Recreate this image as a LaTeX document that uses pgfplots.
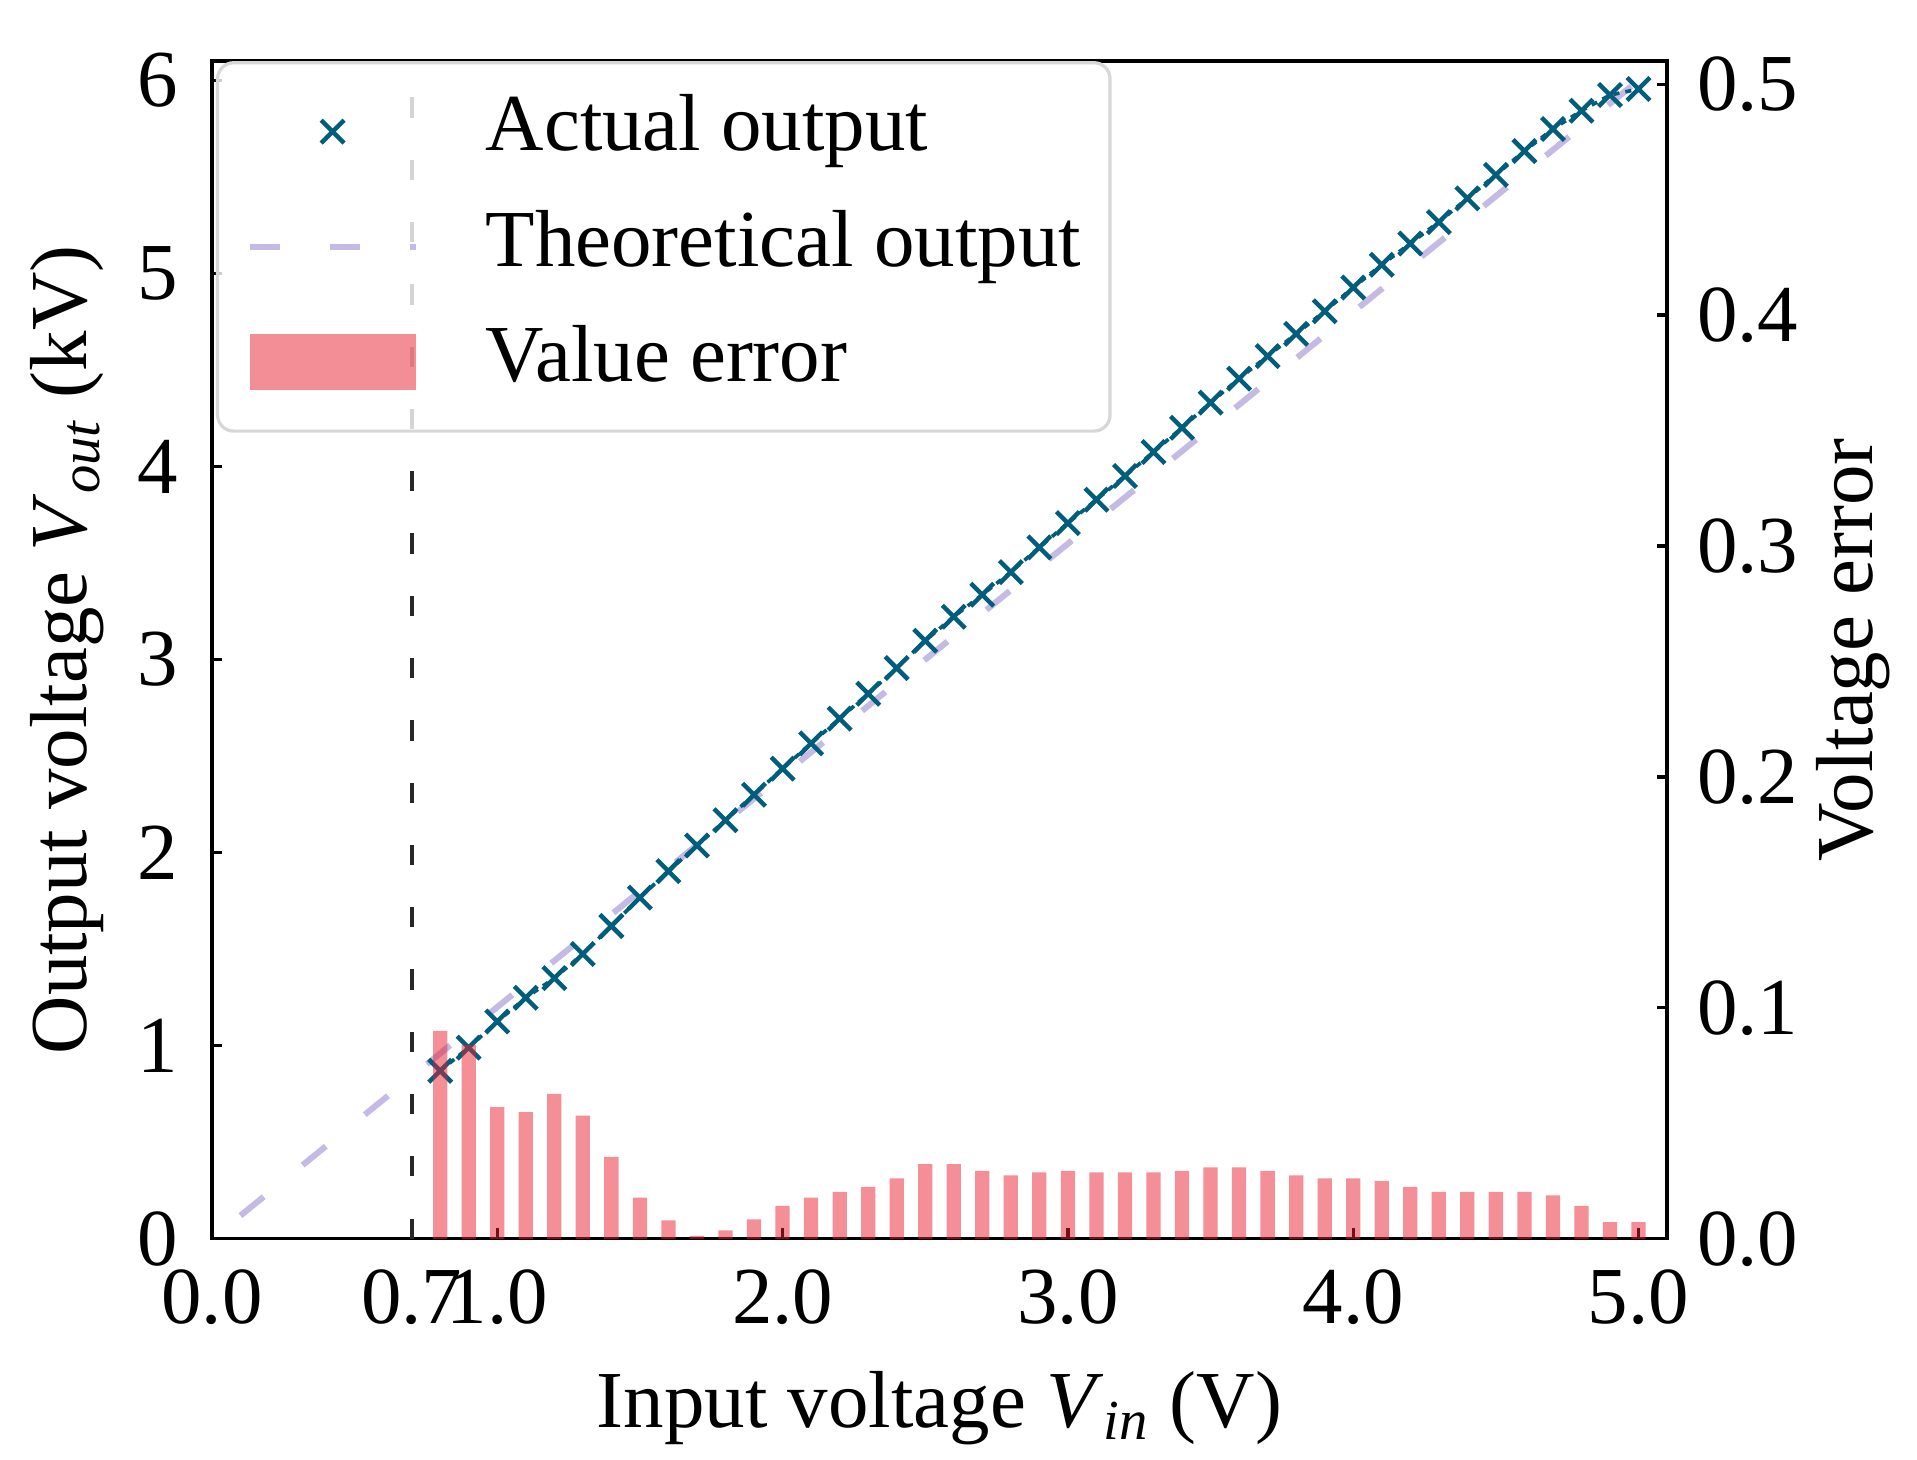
\documentclass[border=0pt]{standalone}
\usepackage{fontspec}
\setmainfont{Liberation Serif}
\usepackage{pgfplots}
\usepackage{pgfplotstable}
\pgfplotsset{compat=1.18}

\definecolor{teal0}{RGB}{0,94,124}
\definecolor{lav}{RGB}{196,186,228}
\definecolor{barc}{RGB}{233,31,49}
\definecolor{vline}{RGB}{40,40,40}
\definecolor{legframe}{RGB}{215,215,215}

\pgfplotstableread{
x v e
0.8 0.870 0.0900
0.9 0.990 0.0840
1.0 1.125 0.0570
1.1 1.248 0.0548
1.2 1.350 0.0627
1.3 1.475 0.0533
1.4 1.620 0.0355
1.5 1.767 0.0178
1.6 1.904 0.0080
1.7 2.037 0.0012
1.8 2.168 0.0036
1.9 2.300 0.0084
2.0 2.435 0.0142
2.1 2.566 0.0178
2.2 2.694 0.0203
2.3 2.823 0.0225
2.4 2.956 0.0262
2.5 3.098 0.0323
2.6 3.222 0.0323
2.7 3.336 0.0294
2.8 3.453 0.0275
2.9 3.581 0.0287
3.0 3.707 0.0294
3.1 3.828 0.0287
3.2 3.951 0.0287
3.3 4.075 0.0287
3.4 4.201 0.0294
3.5 4.331 0.0309
3.6 4.455 0.0309
3.7 4.572 0.0294
3.8 4.687 0.0275
3.9 4.804 0.0261
4.0 4.927 0.0261
4.1 5.045 0.0251
4.2 5.155 0.0225
4.3 5.266 0.0203
4.4 5.389 0.0203
4.5 5.511 0.0203
4.6 5.634 0.0203
4.7 5.748 0.0188
4.8 5.843 0.0142
4.9 5.924 0.0072
5.0 5.955 0.0072
}\datatab

\pgfplotsset{
  common/.style={
    scale only axis, width=359.8pt, height=291.2pt,
    xmin=0, xmax=5.1,
    tick align=inside, major tick length=2.6pt,
    tick style={black, line width=0.8pt},
    axis line style={black, line width=0.8pt},
    tick label style={font=\fontsize{20}{24}\selectfont},
    label style={font=\fontsize{20}{24}\selectfont},
  }
}

\begin{document}
\begin{tikzpicture}[font=\fontsize{20}{24}\selectfont]
\begin{axis}[common, name=ax,
  ymin=0, ymax=6.1,
  xtick={0,0.7,1,2,3,4,5}, xticklabels={0.0,0.7,1.0,2.0,3.0,4.0,5.0},
  ytick={0,1,2,3,4,5,6}, yticklabels={0,1,2,3,4,5,6},
  xtick pos=left, ytick pos=left,
  xticklabel style={yshift=-4pt},
  yticklabel style={xshift=-4.9pt},
  xlabel={Input voltage \textit{V}\textsubscript{\textit{in}} (V)},
  ylabel={Output voltage \textit{V}\textsubscript{\textit{out}} (kV)},
  xlabel style={at={([yshift=-41.8pt]axis description cs:0.5,0)}, anchor=center},
  ylabel style={at={([xshift=-35.8pt]axis description cs:0,0.5)}, anchor=center},
]
\addplot[vline, line width=1pt, dash pattern=on 5pt off 10.4pt, forget plot]
  coordinates {(0.7,0) (0.7,6.1)};
\addplot[lav, line width=1.5pt, dash pattern=on 7.4pt off 12.4pt, forget plot]
  coordinates {(0.1,0.12) (5.0,6.0)};
\addplot[teal0, line width=0.9pt, dash pattern=on 1.5pt off 1.5pt,
  mark=x, mark size=4pt, mark options={solid, line width=1.1pt}, forget plot]
  table[x=x, y=v] {\datatab};
\end{axis}

\begin{axis}[common,
  ymin=0, ymax=0.51,
  axis x line=none, axis y line*=right,
  ytick={0,0.1,0.2,0.3,0.4,0.5}, yticklabels={0.0,0.1,0.2,0.3,0.4,0.5},
  yticklabel style={xshift=3.9pt},
  ylabel={Voltage error},
  ylabel style={at={([xshift=46pt]axis description cs:1,0.5)}, anchor=center},
  legend cell align=left,
  legend style={at={([xshift=1pt]axis description cs:0,1)}, anchor=north west,
    draw=legframe, line width=0.8pt, rounded corners=4pt,
    fill=white, fill opacity=0.8, text opacity=1, draw opacity=1,
    inner xsep=7.2pt, inner ysep=7.8pt, column sep=16.6pt, row sep=10pt,
    font=\fontsize{20}{24}\selectfont,
    nodes={inner sep=0pt, text height=14pt, text depth=4.5pt}},
]
\addlegendimage{legend image code/.code={\path[draw=none, fill=none] (0pt,0pt) -- (41pt,0pt);
  \draw[teal0, line width=1.1pt, mark=x, mark size=4pt, mark options={solid}, sharp corners] plot coordinates {(20.5pt,0pt)};}}
\addlegendimage{legend image code/.code={\draw[lav, line width=1.5pt, dash pattern=on 7.4pt off 12.4pt, sharp corners] (0pt,0pt) -- (41pt,0pt);}}
\addplot[ybar, bar width=0.05, fill=barc, fill opacity=0.5, draw=none,
  legend image code/.code={\fill[barc, fill opacity=0.5, sharp corners] (0pt,-7pt) rectangle (41pt,7pt);}]
  table[x=x, y=e] {\datatab};
\legend{Actual output, Theoretical output, Value error}
\end{axis}
\pgfresetboundingbox
\path (ax.south west) ++(-52.4pt,-54.5pt) rectangle ++(474pt,360.8pt);
\end{tikzpicture}
\end{document}
